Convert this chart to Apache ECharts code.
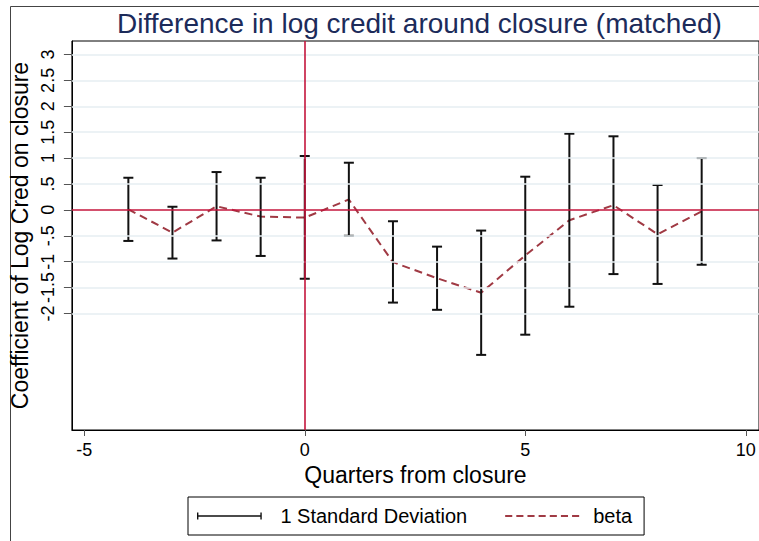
<!DOCTYPE html>
<html>
<head>
<meta charset="utf-8">
<script src="https://cdn.jsdelivr.net/npm/echarts@6/dist/echarts.min.js"></script>
<style>
html,body{margin:0;padding:0;background:#fff;}
#chart{width:759px;height:541px;}
</style>
</head>
<body>
<div id="chart"></div>
<script>
// ---- data ----
const quarters = [-4, -3, -2, -1, 0, 1, 2, 3, 4, 5, 6, 7, 8, 9];
const beta     = [0.01, -0.44, 0.07, -0.13, -0.15, 0.20, -1.01, -1.32, -1.60, -0.88, -0.20, 0.09, -0.47, -0.03];
const upper    = [0.62, 0.06, 0.73, 0.62, 1.04, 0.91, -0.22, -0.71, -0.40, 0.64, 1.47, 1.42, 0.48, 1.00];
const lower    = [-0.60, -0.94, -0.59, -0.89, -1.33, -0.50, -1.79, -1.93, -2.80, -2.41, -1.87, -1.24, -1.43, -1.06];
const yTicks   = [-2, -1.5, -1, -0.5, 0, 0.5, 1, 1.5, 2, 2.5, 3];
const xTicks   = [-5, 0, 5, 10];

const titleText = 'Difference in log credit around closure (matched)';
const yTitle = 'Coefficient of Log Cred on closure';
const xTitle = 'Quarters from closure';
const sdName = '1 Standard Deviation';
const betaName = 'beta';

const FONT = '"Liberation Sans", Arial, Helvetica, sans-serif';

const fmt = v => {
  if (v === 0) return '0';
  let s = String(v);
  return s.replace(/^(-?)0\./, '$1.');
};

const errData = quarters.map((q, i) => [q, lower[i], upper[i]]);
const betaData = quarters.map((q, i) => [q, beta[i]]);

const chart = echarts.init(document.getElementById('chart'), null, {renderer: 'svg'});

chart.setOption({
  animation: false,
  backgroundColor: '#fff',
  title: {
    text: titleText,
    left: 112, top: 4,
    textStyle: {fontFamily: FONT, fontSize: 28, fontWeight: 'normal', color: '#1c2b5a'}
  },
  graphic: [{
    type: 'rect', silent: true, z: -1,
    shape: {x: 10.5, y: 6.5, width: 800, height: 600},
    style: {fill: 'none', stroke: '#444', lineWidth: 1}
  }],
  grid: {
    left: 71, top: 41, width: 691, height: 389,
    show: true, borderColor: '#000', borderWidth: 1, backgroundColor: '#fff'
  },
  xAxis: {
    type: 'value', min: -5.28, max: 10.3,
    name: xTitle, nameLocation: 'middle', nameGap: 30,
    nameTextStyle: {fontFamily: FONT, fontSize: 23, color: '#000'},
    axisLine: {show: true, onZero: false, lineStyle: {color: '#000', width: 1}},
    axisTick: {show: true, length: 6, lineStyle: {color: '#555'}, customValues: xTicks},
    axisLabel: {fontFamily: FONT, fontSize: 18, color: '#000', margin: 11, customValues: xTicks, formatter: fmt},
    splitLine: {show: false}
  },
  yAxis: {
    type: 'value', min: -4.25, max: 3.26,
    name: yTitle, nameLocation: 'middle', nameGap: 28, nameRotate: 90,
    nameTextStyle: {fontFamily: FONT, fontSize: 23, color: '#000'},
    axisLine: {show: true, onZero: false, lineStyle: {color: '#000', width: 1}},
    axisTick: {show: true, length: 8, lineStyle: {color: '#555'}, customValues: yTicks},
    axisLabel: {fontFamily: FONT, fontSize: 18, color: '#000', margin: 15, rotate: 90, customValues: yTicks, formatter: fmt},
    splitLine: {show: false}
  },
  legend: {
    left: 188, top: 497,
    orient: 'horizontal',
    borderColor: '#000', borderWidth: 1,
    padding: [9, 12, 9, 9],
    itemGap: 38, itemWidth: 74, itemHeight: 7,
    textStyle: {fontFamily: FONT, fontSize: 20, color: '#000', padding: [0, 0, 0, 9]},
    data: [
      {name: sdName, icon: 'path://M0,0h1.6v8h-1.6z M0,3.2h74v1.6h-74z M72.4,0h1.6v8h-1.6z'},
      {name: betaName, icon: 'path://M0,0h7v2h-7z M11,0h7v2h-7z M22,0h7v2h-7z M33,0h7v2h-7z M44,0h7v2h-7z M55,0h7v2h-7z M66,0h7v2h-7z'}
    ]
  },
  series: [
    {
      name: 'ref', type: 'line', data: [], z: 1, silent: true,
      markLine: {
        silent: true, symbol: 'none', animation: false,
        label: {show: false},
        lineStyle: {color: '#e6eef2', width: 1.5, type: 'solid'},
        data: yTicks.filter(v => v !== 0).map(v => ({yAxis: v}))
      }
    },
    {
      name: 'zero', type: 'line', data: [], z: 2, silent: true,
      markLine: {
        silent: true, symbol: 'none', animation: false,
        label: {show: false},
        lineStyle: {color: '#c4163d', width: 1.6, type: 'solid'},
        data: [{xAxis: 0}, {yAxis: 0}]
      }
    },
    {
      name: betaName, type: 'line', data: betaData, z: 3,
      symbol: 'none', smooth: false,
      itemStyle: {color: '#a03a44'},
      lineStyle: {color: '#a03a44', width: 2, type: [8, 5]}
    },
    {
      name: sdName, type: 'custom', data: errData, z: 4,
      itemStyle: {color: '#111'},
      encode: {x: 0, y: [1, 2]},
      renderItem: function (params, api) {
        const x = api.value(0);
        const pLo = api.coord([x, api.value(1)]);
        const pHi = api.coord([x, api.value(2)]);
        const w = 5;
        const st = {stroke: '#111', lineWidth: 2};
        return {
          type: 'group',
          children: [
            {type: 'line', shape: {x1: pLo[0], y1: pLo[1], x2: pHi[0], y2: pHi[1]}, style: st},
            {type: 'line', shape: {x1: pHi[0] - w, y1: pHi[1], x2: pHi[0] + w, y2: pHi[1]}, style: st},
            {type: 'line', shape: {x1: pLo[0] - w, y1: pLo[1], x2: pLo[0] + w, y2: pLo[1]}, style: st}
          ]
        };
      }
    }
  ]
});
</script>
</body>
</html>
